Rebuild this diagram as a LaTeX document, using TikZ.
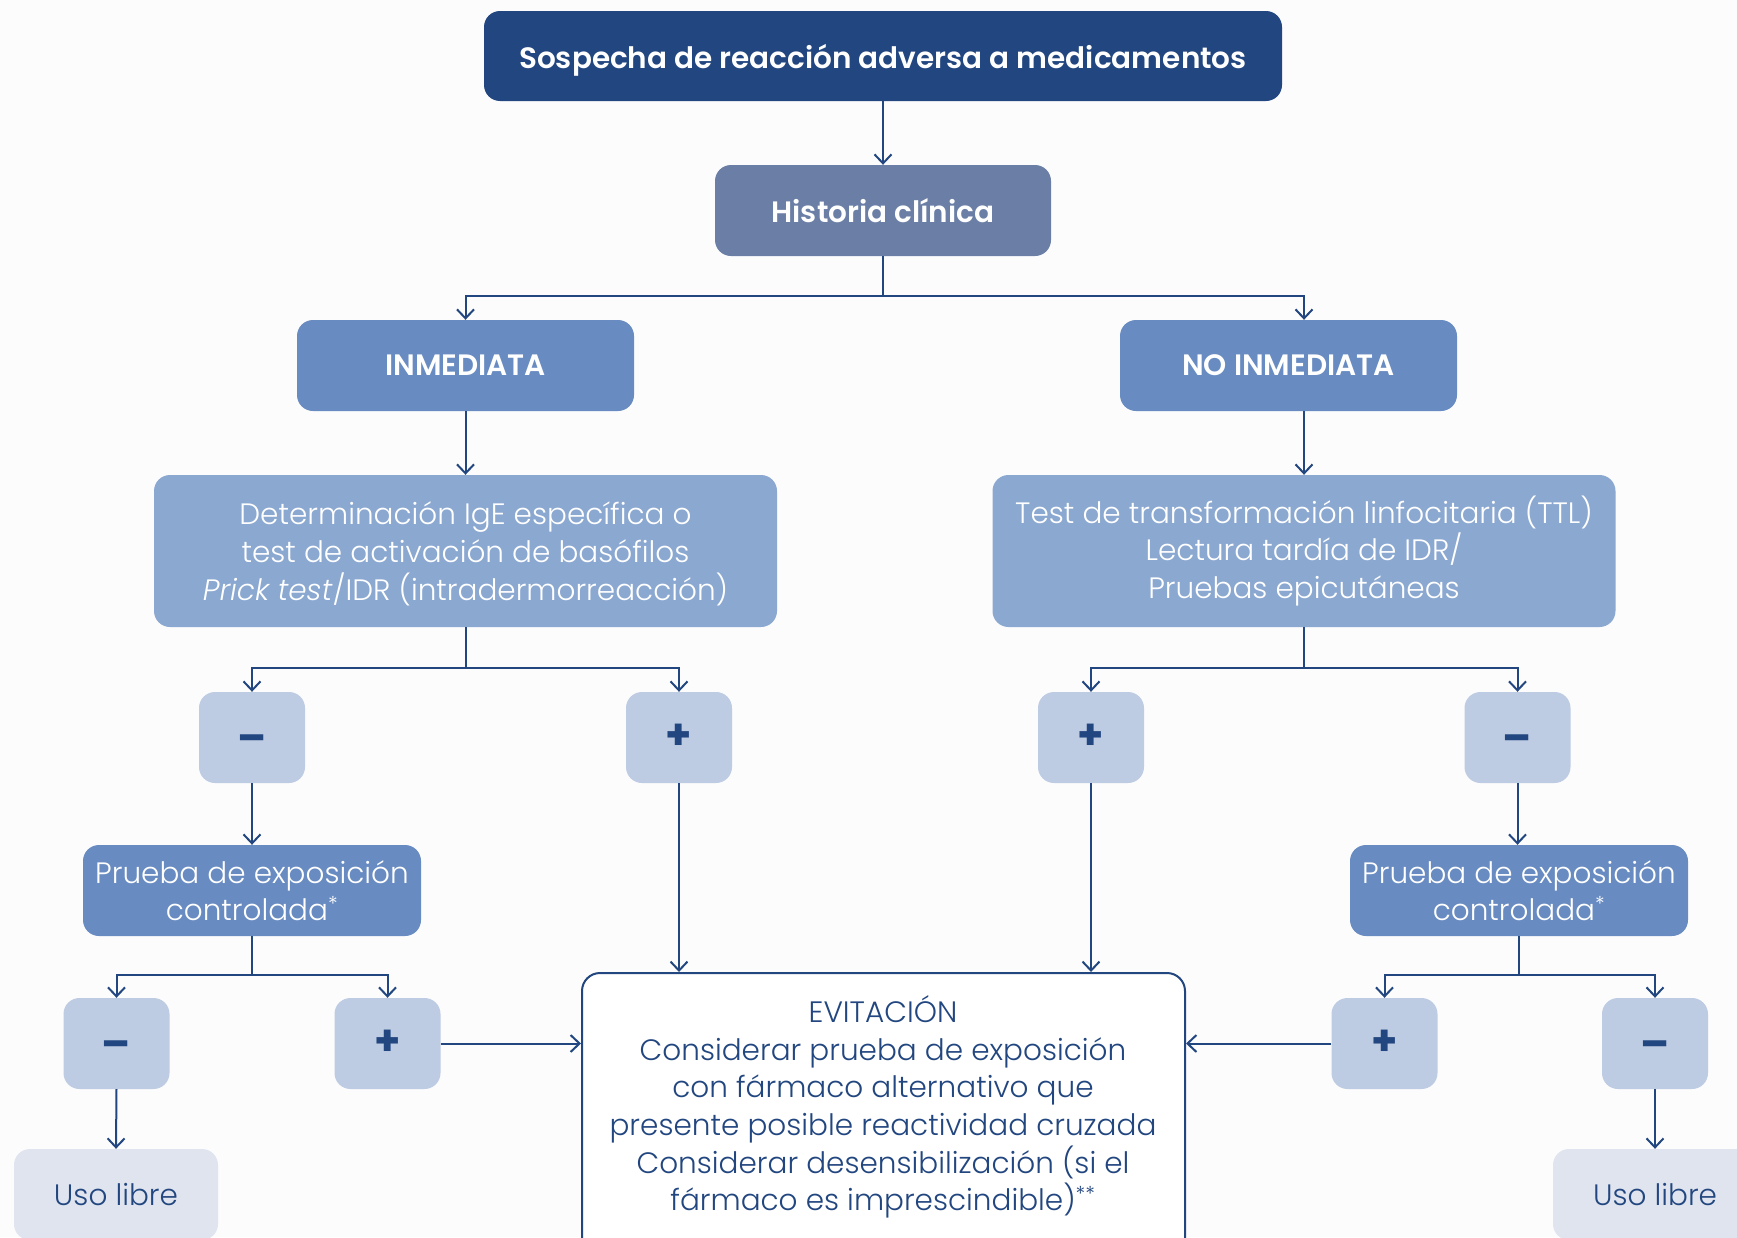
\documentclass[tikz,border=0pt]{standalone}
\usepackage{fontspec}
\setmainfont{Poppins}[UprightFont={* Light}, BoldFont={* SemiBold}, ItalicFont={* Light Italic}, BoldItalicFont={* SemiBold Italic}]
\newfontfamily\signfont{Poppins}[UprightFont={* Bold}]
\usetikzlibrary{arrows.meta}
\definecolor{navy}{HTML}{22467F}
\definecolor{histc}{HTML}{6B7FA6}
\definecolor{midc}{HTML}{688BC1}
\definecolor{lightc}{HTML}{8BA8D1}
\definecolor{signc}{HTML}{BDCBE3}
\definecolor{usoc}{HTML}{DFE4EE}
\definecolor{bgc}{HTML}{FCFCFD}
\newcommand{\minussign}{\raisebox{-3pt}{–}}
\begin{document}
\begin{tikzpicture}[x=1pt,y=-1pt,
  bx/.style={rectangle, rounded corners=16pt, inner sep=0pt, align=center},
  lowtext/.style={text depth=0pt},
  topbox/.style={bx, lowtext, fill=navy, text=white, minimum width=798pt, minimum height=90pt, font=\fontsize{29.5}{36}\selectfont\bfseries},
  histbox/.style={bx, lowtext, fill=histc, text=white, minimum width=336pt, minimum height=91pt, font=\fontsize{29.5}{36}\selectfont\bfseries},
  midbox/.style={bx, lowtext, fill=midc, text=white, minimum width=337pt, minimum height=91pt, font=\fontsize{29.5}{36}\selectfont\bfseries},
  testbox/.style={bx, lowtext, fill=lightc, text=white, minimum width=623pt, minimum height=152pt, font=\fontsize{29.5}{37.7}\selectfont},
  signbox/.style={bx, fill=signc, text=navy, minimum width=106pt, minimum height=91pt, text height=24pt, text depth=0pt, font=\fontsize{42}{42}\signfont},
  pruebabox/.style={bx, lowtext, fill=midc, text=white, minimum width=338pt, minimum height=91pt, font=\fontsize{29.5}{37.7}\selectfont},
  usobox/.style={bx, fill=usoc, text=navy, minimum width=204pt, minimum height=91pt, font=\fontsize{29.5}{37.7}\selectfont},
  evitbox/.style={rectangle, rounded corners=18pt, draw=navy, line width=2pt, fill=white, minimum width=603pt, minimum height=300pt},
  evittext/.style={align=center, text=navy, inner sep=0pt, font=\fontsize{29.5}{37.7}\selectfont},
  arr/.style={draw=navy, line width=2pt, -{Straight Barb[length=9pt,width=17pt,line width=2pt]}}
]
\useasboundingbox (0,0) rectangle (1737,1237);
\clip (0,0) rectangle (1737,1237);
\fill[bgc] (0,0) rectangle (1737,1237);

\node[topbox] (top) at (883,56) {Sospecha de reacción adversa a medicamentos};
\node[histbox] (hist) at (883,210.5) {Historia clínica};
\node[midbox] (inm) at (465.5,365.5) {INMEDIATA};
\node[midbox] (noinm) at (1288.5,365.5) {NO INMEDIATA};
\node[testbox] (det) at (465.5,551) {Determinación IgE específica o\\test de activación de basófilos\\\textit{Prick test}/IDR (intradermorreacción)};
\node[testbox, text depth=] (test) at (1304,551) {Test de transformación linfocitaria (TTL)\\Lectura tardía de IDR/\\Pruebas epicutáneas};

\node[signbox] (m1) at (252,737.5) {\minussign};
\node[signbox] (p1) at (679,737.5) {+};
\node[signbox] (p2) at (1091,737.5) {+};
\node[signbox] (m2) at (1517.5,737.5) {\minussign};

\node[pruebabox] (pr1) at (252,890.5) {Prueba de exposición\\controlada\textsuperscript{*}};
\node[pruebabox] (pr2) at (1519,890.5) {Prueba de exposición\\controlada\textsuperscript{*}};

\node[signbox] (m3) at (116.5,1043.5) {\minussign};
\node[signbox] (p3) at (387.5,1043.5) {+};
\node[signbox] (p4) at (1384.5,1043.5) {+};
\node[signbox] (m4) at (1655,1043.5) {\minussign};

\node[usobox] (u1) at (116,1194.5) {Uso libre};
\node[usobox] (u2) at (1655,1194.5) {Uso libre};

\node[evitbox] (evit) at (883.5,1123) {};
\node[evittext] (evtxt) at (883,1107) {EVITACIÓN\\Considerar prueba de exposición\\con fármaco alternativo que\\presente posible reactividad cruzada\\Considerar desensibilización (si el\\fármaco es imprescindible)\textsuperscript{**}};

\draw[arr] (top.south) -- (hist.north);
\draw[arr] (hist.south) -- (883,296) -| (inm.north);
\draw[arr] (hist.south) -- (883,296) -| (test.north |- noinm.north);
\draw[arr] (inm.south) -- (det.north);
\draw[arr] (test.north |- noinm.south) -- (test.north);

\draw[arr] (det.south) -- (465.5,668) -| (m1.north);
\draw[arr] (det.south) -- (465.5,668) -| (p1.north);
\draw[arr] (test.south) -- (1304,668) -| (p2.north);
\draw[arr] (test.south) -- (1304,668) -| (m2.north);

\draw[arr] (m1.south) -- (pr1.north);
\draw[arr] (m2.south) -- (m2.south |- pr2.north);
\draw[arr] (p1.south) -- (p1.south |- evit.north);
\draw[arr] (p2.south) -- (p2.south |- evit.north);

\draw[arr] (pr1.south) -- (252,975) -| (m3.north);
\draw[arr] (pr1.south) -- (252,975) -| (p3.north);
\draw[arr] (pr2.south) -- (1519,975) -| (p4.north);
\draw[arr] (pr2.south) -- (1519,975) -| (m4.north);

\draw[arr] (m3.south) -- (u1.north);
\draw[arr] (m4.south) -- (u2.north);
\draw[arr] (p3.east) -- (p3.east -| evit.west);
\draw[arr] (p4.west) -- (p4.west -| evit.east);
\end{tikzpicture}
\end{document}
